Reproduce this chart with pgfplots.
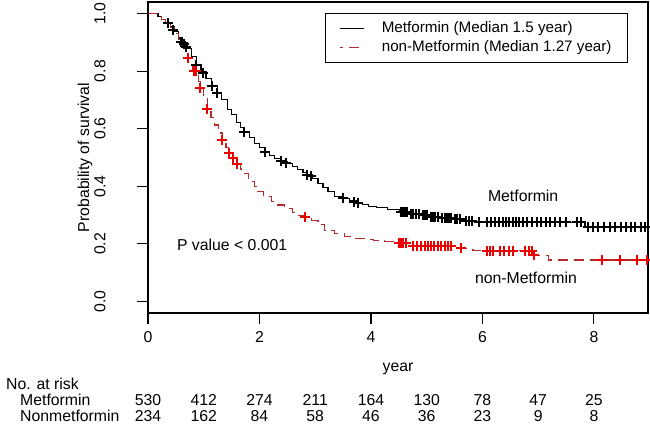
\documentclass[border=0pt]{standalone}
\usepackage{pgfplots}
\pgfplotsset{compat=1.18}
\usepackage{fontspec}
\setmainfont{Liberation Sans}
\newcommand{\rfont}{\fontsize{15.8bp}{18bp}\selectfont}
\newcommand{\lfont}{\fontsize{15.2bp}{17bp}\selectfont}
\definecolor{nonmet}{RGB}{178,44,44}
\definecolor{censred}{RGB}{235,0,0}

\begin{document}
\begin{tikzpicture}[font=\rfont]
\begin{axis}[
    at={(0,0)}, anchor=south west,
    scale only axis,
    width=500bp, height=311bp,
    xmin=0, xmax=8.97, ymin=-0.04, ymax=1.04,
    clip=false,
    axis line style={line width=1.6bp},
    xtick={0,2,4,6,8},
    ytick={0,0.2,0.4,0.6,0.8,1.0},
    tick pos=left, tick align=outside,
    major tick length=11bp,
    tick style={line width=1.1bp, black},
    /pgf/number format/assume math mode=true,
    xticklabel style={font=\rfont, yshift=-4bp},
    yticklabel style={font=\rfont, xshift=-28bp, rotate=90, anchor=south,
        /pgf/number format/.cd, fixed, fixed zerofill, precision=1},
    xlabel={year}, ylabel={Probability of survival},
    xlabel style={font=\rfont, at={(axis description cs:0.5,-0.18)}, anchor=center},
    ylabel style={font=\rfont, at={(axis description cs:-0.126,0.5)}, anchor=center},
    legend style={at={(rel axis cs:0.354,0.965)}, anchor=north west,
        draw=black, line width=1.4bp, font=\lfont,
        inner xsep=14bp, inner ysep=6bp, column sep=15bp, row sep=1bp,
        nodes={inner sep=2bp, text height=10.5bp, text depth=3.5bp}},
    legend cell align=left,
    legend image code/.code={\draw[#1, dash phase=7bp] (0bp,0bp) -- (24bp,0bp);},
]

% --- Metformin ---
\addplot[black, line width=1.1bp, const plot] table {
x y
0 1.000
0.18 0.990
0.25 0.980
0.32 0.970
0.40 0.955
0.48 0.938
0.55 0.915
0.62 0.898
0.70 0.878
0.78 0.852
0.87 0.822
0.95 0.800
1.04 0.775
1.14 0.750
1.24 0.725
1.32 0.700
1.43 0.668
1.50 0.648
1.58 0.620
1.66 0.603
1.72 0.590
1.82 0.568
1.91 0.550
2.00 0.535
2.10 0.520
2.18 0.508
2.27 0.497
2.39 0.487
2.50 0.478
2.60 0.468
2.69 0.457
2.78 0.447
2.86 0.440
2.95 0.428
3.05 0.410
3.14 0.395
3.23 0.381
3.35 0.364
3.50 0.358
3.62 0.350
3.74 0.343
3.85 0.336
3.95 0.330
4.10 0.325
4.30 0.320
4.52 0.312
4.70 0.305
4.90 0.300
5.06 0.295
5.25 0.290
5.47 0.285
5.65 0.280
5.90 0.275
7.84 0.258
8.97 0.258
};
\addlegendentry{Metformin (Median 1.5 year)}

% --- non-Metformin ---
\addplot[nonmet, line width=1.1bp, const plot, dash pattern=on 10bp off 6bp] table {
x y
0 1.000
0.18 0.990
0.25 0.980
0.32 0.968
0.40 0.952
0.48 0.932
0.55 0.910
0.62 0.885
0.71 0.845
0.80 0.800
0.90 0.765
0.94 0.740
1.00 0.705
1.06 0.667
1.13 0.640
1.20 0.613
1.27 0.585
1.33 0.561
1.40 0.535
1.45 0.514
1.52 0.500
1.58 0.478
1.66 0.460
1.73 0.445
1.80 0.428
1.85 0.416
1.91 0.398
1.97 0.381
2.08 0.365
2.21 0.347
2.33 0.335
2.45 0.323
2.60 0.310
2.70 0.300
2.81 0.292
2.93 0.280
3.05 0.266
3.17 0.248
3.35 0.236
3.53 0.225
3.70 0.219
3.89 0.214
4.05 0.211
4.25 0.208
4.50 0.202
4.70 0.193
5.55 0.185
5.83 0.176
6.90 0.160
7.18 0.144
8.97 0.144
};
\addlegendentry{non-Metformin (Median 1.27 year)}

% --- censoring marks ---
\addplot[only marks, mark=+, mark size=5bp, black, line width=2bp, forget plot] table {
x y
0.36 0.966
0.45 0.943
0.60 0.900
0.65 0.893
0.69 0.885
0.87 0.821
0.99 0.792
1.14 0.748
1.24 0.725
1.72 0.590
2.10 0.520
2.39 0.487
2.48 0.482
2.86 0.440
2.93 0.437
3.50 0.358
3.70 0.345
3.76 0.343
4.53 0.312
4.57 0.312
4.61 0.312
4.65 0.312
4.72 0.305
4.76 0.305
4.80 0.305
4.86 0.305
4.93 0.300
4.97 0.300
5.01 0.300
5.08 0.295
5.12 0.295
5.15 0.295
5.20 0.295
5.28 0.290
5.32 0.290
5.36 0.290
5.40 0.290
5.44 0.290
5.50 0.285
5.55 0.285
5.60 0.285
5.70 0.280
5.76 0.280
5.82 0.280
5.94 0.275
6.08 0.275
6.15 0.275
6.22 0.275
6.30 0.275
6.36 0.275
6.42 0.275
6.48 0.275
6.54 0.275
6.60 0.275
6.66 0.275
6.72 0.275
6.80 0.275
6.88 0.275
6.98 0.275
7.05 0.275
7.14 0.275
7.22 0.275
7.30 0.275
7.40 0.275
7.50 0.275
7.70 0.275
7.76 0.275
7.90 0.258
7.98 0.258
8.08 0.258
8.18 0.258
8.28 0.258
8.38 0.258
8.48 0.258
8.58 0.258
8.66 0.258
8.74 0.258
8.84 0.258
8.92 0.258
};

\addplot[only marks, mark=+, mark size=5bp, censred, line width=2bp, forget plot] table {
x y
0.71 0.845
0.83 0.800
0.87 0.800
0.94 0.740
1.06 0.667
1.33 0.561
1.45 0.514
1.53 0.500
1.59 0.478
2.81 0.292
4.50 0.202
4.54 0.202
4.58 0.202
4.63 0.202
4.76 0.193
4.83 0.193
4.90 0.193
4.97 0.193
5.02 0.193
5.07 0.193
5.13 0.193
5.20 0.193
5.26 0.193
5.32 0.193
5.38 0.193
5.44 0.193
5.62 0.185
6.08 0.176
6.14 0.176
6.19 0.176
6.31 0.176
6.39 0.176
6.47 0.176
6.55 0.176
6.77 0.176
6.83 0.176
6.89 0.176
6.93 0.160
8.14 0.144
8.47 0.144
8.77 0.144
8.95 0.144
};

% --- annotations ---
\node[anchor=center] at (axis cs:6.73,0.366) {Metformin};
\node[anchor=center] at (axis cs:6.78,0.082) {non-Metformin};
\node[anchor=center] at (axis cs:1.51,0.196) {P value < 0.001};

% --- number at risk ---
\node[anchor=west, inner sep=0pt] at (axis cs:-2.547,-0.2865) {No. at risk};
\node[anchor=west, inner sep=0pt] at (axis cs:-2.296,-0.342) {Metformin};
\node[anchor=west, inner sep=0pt] at (axis cs:-2.296,-0.3976) {Nonmetformin};
\node at (axis cs:0,-0.342) {530};
\node at (axis cs:1,-0.342) {412};
\node at (axis cs:2,-0.342) {274};
\node at (axis cs:3,-0.342) {211};
\node at (axis cs:4,-0.342) {164};
\node at (axis cs:5,-0.342) {130};
\node at (axis cs:6,-0.342) {78};
\node at (axis cs:7,-0.342) {47};
\node at (axis cs:8,-0.342) {25};
\node at (axis cs:0,-0.3976) {234};
\node at (axis cs:1,-0.3976) {162};
\node at (axis cs:2,-0.3976) {84};
\node at (axis cs:3,-0.3976) {58};
\node at (axis cs:4,-0.3976) {46};
\node at (axis cs:5,-0.3976) {36};
\node at (axis cs:6,-0.3976) {23};
\node at (axis cs:7,-0.3976) {9};
\node at (axis cs:8,-0.3976) {8};
\end{axis}
\pgfresetboundingbox
\path[use as bounding box] (-148bp,-117bp) rectangle (502bp,313bp);
\end{tikzpicture}
\end{document}
